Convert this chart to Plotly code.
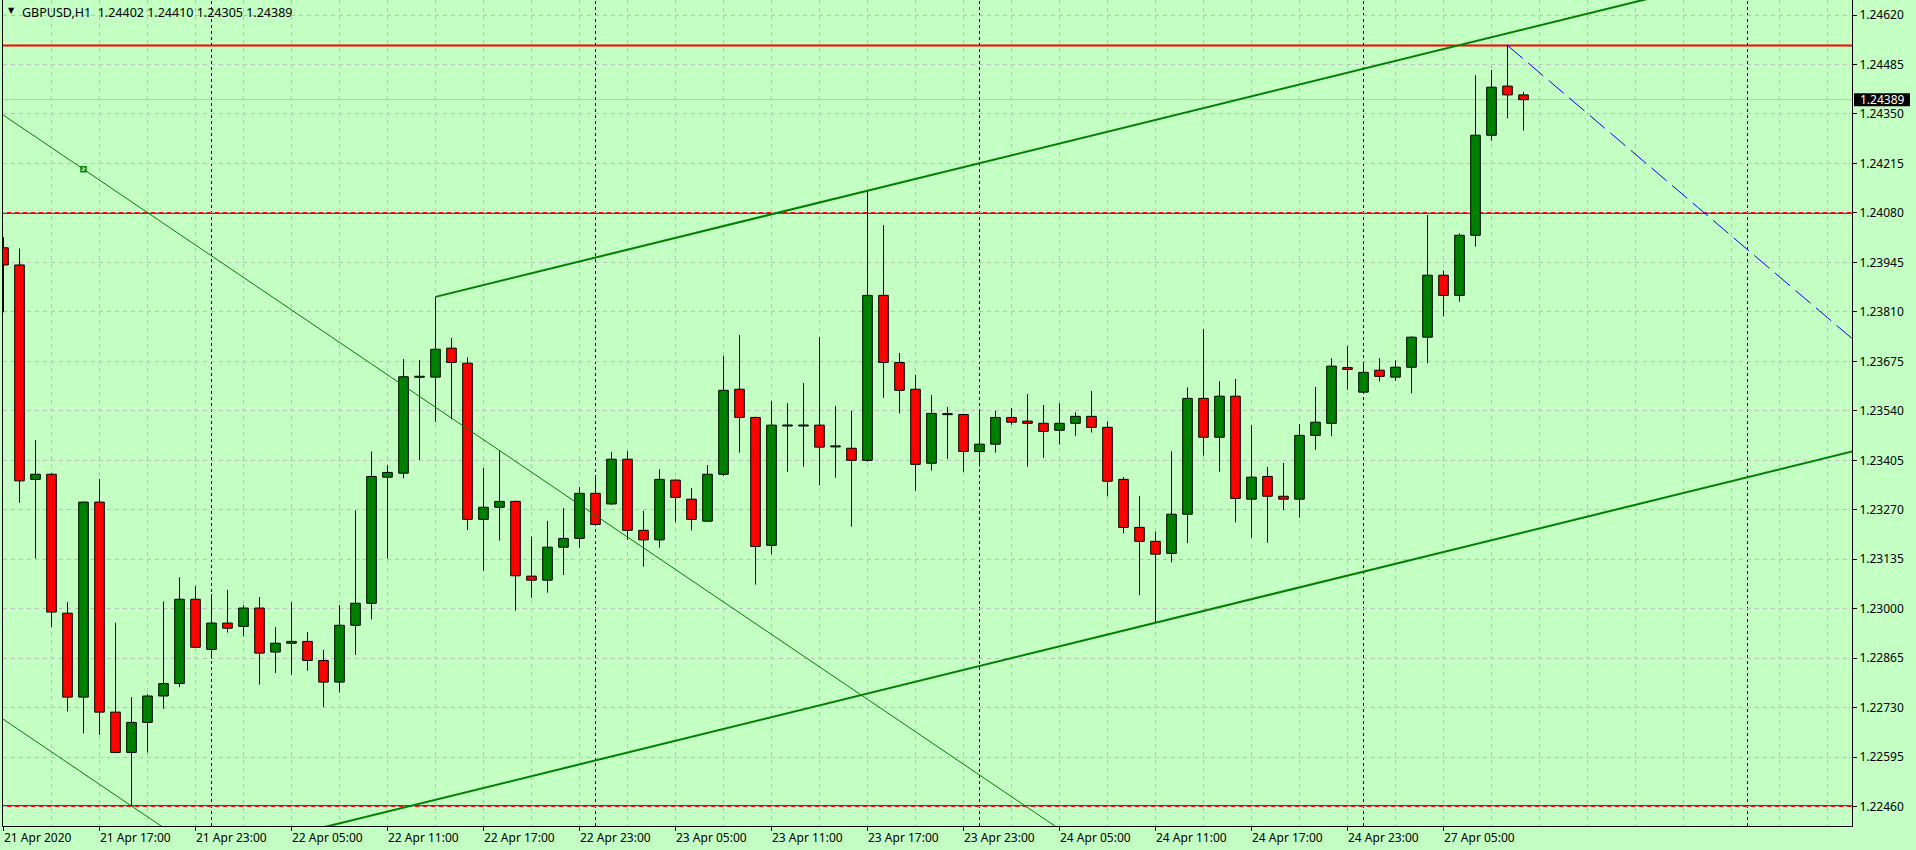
import plotly.graph_objects as go
import pandas as pd

SYMBOL = "GBPUSD,H1"

# ---- OHLC data (H1 bars) ----
opens = [1.23985, 1.23938, 1.23353, 1.23367, 1.22988, 1.22759, 1.23291, 1.22718, 1.22608, 1.22690,
         1.22762, 1.22796, 1.23026, 1.22889, 1.22961, 1.22952, 1.23002, 1.22882, 1.22906, 1.22911,
         1.22859, 1.22800, 1.22955, 1.23015, 1.23359, 1.23370, 1.23633, 1.23632, 1.23711, 1.23670,
         1.23244, 1.23277, 1.23293, 1.23089, 1.23078, 1.23168, 1.23192, 1.23315, 1.23286, 1.23408,
         1.23214, 1.23188, 1.23351, 1.23299, 1.23239, 1.23367, 1.23599, 1.23522, 1.23173, 1.23500,
         1.23500, 1.23501, 1.23443, 1.23438, 1.23405, 1.23855, 1.23672, 1.23599, 1.23397, 1.23531,
         1.23530, 1.23429, 1.23449, 1.23522, 1.23512, 1.23506, 1.23487, 1.23506, 1.23525, 1.23495,
         1.23353, 1.23222, 1.23184, 1.23151, 1.23258, 1.23574, 1.23468, 1.23580, 1.23299, 1.23361,
         1.23307, 1.23299, 1.23473, 1.23506, 1.23658, 1.23591, 1.23651, 1.23632, 1.23659, 1.23741,
         1.23910, 1.23855, 1.24019, 1.24292, 1.24426, 1.24402]
highs = [1.24014, 1.23983, 1.23460, 1.23370, 1.23018, 1.23293, 1.23354, 1.22962, 1.22759, 1.22767,
         1.23020, 1.23086, 1.23062, 1.23040, 1.23051, 1.23010, 1.23032, 1.22950, 1.23018, 1.22936,
         1.22888, 1.23010, 1.23268, 1.23429, 1.23392, 1.23681, 1.23679, 1.23851, 1.23739, 1.23686,
         1.23384, 1.23431, 1.23295, 1.23197, 1.23240, 1.23275, 1.23332, 1.23362, 1.23428, 1.23430,
         1.23267, 1.23381, 1.23353, 1.23329, 1.23392, 1.23690, 1.23747, 1.23524, 1.23567, 1.23561,
         1.23616, 1.23741, 1.23553, 1.23540, 1.24143, 1.24047, 1.23698, 1.23638, 1.23583, 1.23550,
         1.23532, 1.23542, 1.23540, 1.23548, 1.23586, 1.23556, 1.23561, 1.23536, 1.23594, 1.23511,
         1.23359, 1.23308, 1.23210, 1.23430, 1.23604, 1.23763, 1.23621, 1.23627, 1.23501, 1.23387,
         1.23398, 1.23504, 1.23605, 1.23683, 1.23717, 1.23674, 1.23683, 1.23678, 1.23743, 1.24074,
         1.23923, 1.24024, 1.24456, 1.24470, 1.24537, 1.24410]
lows = [1.23809, 1.23289, 1.23137, 1.22950, 1.22720, 1.22660, 1.22656, 1.22606, 1.22462, 1.22608,
        1.22727, 1.22786, 1.22893, 1.22864, 1.22935, 1.22925, 1.22793, 1.22825, 1.22820, 1.22831,
        1.22732, 1.22772, 1.22874, 1.22971, 1.23137, 1.23356, 1.23406, 1.23510, 1.23517, 1.23215,
        1.23104, 1.23186, 1.22995, 1.23030, 1.23044, 1.23092, 1.23167, 1.23228, 1.23284, 1.23188,
        1.23115, 1.23167, 1.23236, 1.23214, 1.23237, 1.23362, 1.23426, 1.23066, 1.23149, 1.23374,
        1.23388, 1.23337, 1.23358, 1.23224, 1.23401, 1.23576, 1.23533, 1.23322, 1.23377, 1.23409,
        1.23374, 1.23388, 1.23426, 1.23502, 1.23388, 1.23412, 1.23448, 1.23472, 1.23481, 1.23307,
        1.23206, 1.23037, 1.22963, 1.23127, 1.23179, 1.23418, 1.23374, 1.23236, 1.23194, 1.23180,
        1.23269, 1.23249, 1.23434, 1.23471, 1.23598, 1.23588, 1.23620, 1.23622, 1.23588, 1.23670,
        1.23798, 1.23838, 1.23988, 1.24277, 1.24338, 1.24305]
closes = [1.23938, 1.23349, 1.23367, 1.22991, 1.22759, 1.23291, 1.22718, 1.22608, 1.22690, 1.22762,
          1.22796, 1.23026, 1.22895, 1.22961, 1.22947, 1.23002, 1.22879, 1.22906, 1.22911, 1.22859,
          1.22800, 1.22955, 1.23015, 1.23361, 1.23372, 1.23633, 1.23633, 1.23708, 1.23672, 1.23244,
          1.23277, 1.23293, 1.23090, 1.23078, 1.23168, 1.23192, 1.23315, 1.23230, 1.23408, 1.23214,
          1.23188, 1.23353, 1.23304, 1.23244, 1.23367, 1.23596, 1.23522, 1.23170, 1.23501, 1.23500,
          1.23500, 1.23441, 1.23443, 1.23405, 1.23855, 1.23672, 1.23596, 1.23394, 1.23533, 1.23531,
          1.23429, 1.23449, 1.23522, 1.23509, 1.23506, 1.23484, 1.23506, 1.23525, 1.23495, 1.23348,
          1.23222, 1.23184, 1.23149, 1.23258, 1.23574, 1.23468, 1.23580, 1.23301, 1.23359, 1.23307,
          1.23299, 1.23473, 1.23509, 1.23662, 1.23653, 1.23645, 1.23634, 1.23659, 1.23741, 1.23910,
          1.23855, 1.24019, 1.24292, 1.24423, 1.24402, 1.24389]

# trading sessions shown (hourly bars; weekend skipped)
session_1 = ("2020-04-21 11:00", "2020-04-24 23:00")
session_2 = ("2020-04-27 00:00", "2020-04-27 10:00")

x_tick_labels = ["21 Apr 2020", "21 Apr 17:00", "21 Apr 23:00", "22 Apr 05:00", "22 Apr 11:00",
                 "22 Apr 17:00", "22 Apr 23:00", "23 Apr 05:00", "23 Apr 11:00", "23 Apr 17:00",
                 "23 Apr 23:00", "24 Apr 05:00", "24 Apr 11:00", "24 Apr 17:00", "24 Apr 23:00",
                 "27 Apr 05:00"]
y_tick_start = 1.22460
y_tick_step = 0.00135

# drawn objects
horizontal_levels = [1.24537, 1.24080, 1.22462]
channel_start_bar = 27
channel_upper_price = 1.23851
channel_lower_price = 1.22479
channel_slope = 0.0001073          # price per bar
thin_upper_bar, thin_upper_price = 5, 1.24199
thin_lower_bar, thin_lower_price = 8, 1.22462
thin_slope = -0.0002951
blue_start_bar, blue_start_price = 94, 1.24537
blue_slope = -0.0003714

# ---- derived ----
bar_times = list(pd.date_range(*session_1, freq="h")) + list(pd.date_range(*session_2, freq="h"))
n = len(opens)
bars = list(range(n))
day_starts = [i for i, t in enumerate(bar_times) if t.hour == 0]
day_starts.append(day_starts[-1] + 24)
label_pos = list(range(0, n, 6))[:len(x_tick_labels)]

# ---- geometry / style ----
W, H = 1916, 850
ML, MR, MT, MB = 3, 64, 0, 24
PW, PH = W - ML - MR, H - MT - MB
BAR_PX = 16
x_lo = -0.5 / BAR_PX
x_hi = x_lo + PW / BAR_PX
ppx = 0.0216 / 791.7           # price per pixel
y_lo = y_tick_start - (PH - 806.7) * ppx
y_hi = y_lo + PH * ppx

BG = "#C4FFC4"
GRID = "#C0BCC0"
BULL = "#008000"
BEAR = "#FF0000"
FONT = "Noto Sans"

body_lo, body_hi = [], []
for o, c in zip(opens, closes):
    lo, hi = min(o, c), max(o, c)
    if hi - lo < ppx:
        m = (hi + lo) / 2
        lo, hi = m - ppx / 2, m + ppx / 2
    body_lo.append(lo)
    body_hi.append(hi)

fig = go.Figure()

# wicks (two segments so they don't cross the body)
wx, wy = [], []
for i in bars:
    if highs[i] > body_hi[i]:
        wx += [i, i, None]
        wy += [body_hi[i], highs[i], None]
    if lows[i] < body_lo[i]:
        wx += [i, i, None]
        wy += [lows[i], body_lo[i], None]
fig.add_trace(go.Scatter(x=wx, y=wy, mode="lines", line=dict(color="black", width=1),
                         hoverinfo="skip"))

up = [i for i in bars if closes[i] >= opens[i]]
dn = [i for i in bars if closes[i] < opens[i]]
for idx, col in ((up, BULL), (dn, BEAR)):
    fig.add_trace(go.Bar(x=idx, y=[body_hi[i] - body_lo[i] for i in idx],
                         base=[body_lo[i] for i in idx], width=0.6,
                         marker=dict(color=col, line=dict(color="black", width=1))))

def line_pts(b0, p0, slope, xa, xb):
    return [xa, xb], [p0 + (xa - b0) * slope, p0 + (xb - b0) * slope]

# equidistant channel (thick)
xs, ys = line_pts(channel_start_bar, channel_upper_price, channel_slope, channel_start_bar, 140)
fig.add_trace(go.Scatter(x=xs, y=ys, mode="lines", line=dict(color=BULL, width=2)))
xs, ys = line_pts(channel_start_bar, channel_lower_price, channel_slope, 0, 140)
fig.add_trace(go.Scatter(x=xs, y=ys, mode="lines", line=dict(color=BULL, width=2)))
# thin descending channel
xs, ys = line_pts(thin_upper_bar, thin_upper_price, thin_slope, -3, 90)
fig.add_trace(go.Scatter(x=xs, y=ys, mode="lines", line=dict(color=BULL, width=1)))
xs, ys = line_pts(thin_lower_bar, thin_lower_price, thin_slope, -3, 60)
fig.add_trace(go.Scatter(x=xs, y=ys, mode="lines", line=dict(color=BULL, width=1)))
fig.add_trace(go.Scatter(x=[thin_upper_bar], y=[thin_upper_price], mode="markers",
                         marker=dict(symbol="square-open", size=5, color=BULL, line=dict(width=1.5))))
# blue dashed trend
xs, ys = line_pts(blue_start_bar, blue_start_price, blue_slope, blue_start_bar, 130)
fig.add_trace(go.Scatter(x=xs, y=ys, mode="lines", line=dict(color="#0000FF", width=1, dash="20px,7px")))

shapes = []
for lv in horizontal_levels:
    shapes.append(dict(type="line", xref="paper", yref="y", x0=0, x1=1, y0=lv, y1=lv,
                       line=dict(color=BEAR, width=2), layer="below"))
shapes.append(dict(type="line", xref="paper", yref="y", x0=0, x1=1, y0=closes[-1], y1=closes[-1],
                   line=dict(color="#C0C0C0", width=1), layer="below"))
for d in day_starts:
    shapes.append(dict(type="line", xref="x", yref="paper", x0=d, x1=d, y0=0, y1=1,
                       line=dict(color="black", width=1, dash="3px,3px"), layer="below"))
# last price tag box on the price scale
shapes.append(dict(type="rect", xref="paper", yref="y",
                   x0=(1854 - ML) / PW, x1=(1910 - ML) / PW,
                   y0=closes[-1] - 6.5 * ppx, y1=closes[-1] + 6.5 * ppx,
                   fillcolor="black", line=dict(width=0), layer="above"))

annotations = []
for pos, lab in zip(label_pos, x_tick_labels):
    annotations.append(dict(x=pos, y=0, xref="x", yref="paper", text=lab, showarrow=False,
                            xanchor="left", yanchor="top", xshift=-2, yshift=-1,
                            font=dict(family=FONT, size=12, color="black")))
annotations.append(dict(x=(1858 - ML) / PW, y=closes[-1], xref="paper", yref="y",
                        text=f"{closes[-1]:.5f}", showarrow=False, xanchor="left", yanchor="middle",
                        font=dict(family=FONT, size=12, color="white")))
annotations.append(dict(x=(6 - ML) / PW, y=1, xref="paper", yref="paper", text="▼",
                        showarrow=False, xanchor="left", yanchor="top", yshift=-4,
                        font=dict(family="DejaVu Sans", size=8, color="black")))
header = (SYMBOL + "\u00a0\u00a0" + f"{opens[-1]:.5f} {highs[-1]:.5f} {lows[-1]:.5f} {closes[-1]:.5f}")
annotations.append(dict(x=(20 - ML) / PW, y=1, xref="paper", yref="paper", text=header,
                        showarrow=False, xanchor="left", yanchor="top", yshift=-2,
                        font=dict(family=FONT, size=12.5, color="black")))

fig.update_layout(width=W, height=H, autosize=False,
                  margin=dict(l=ML, r=MR, t=MT, b=MB, pad=0),
                  paper_bgcolor=BG, plot_bgcolor=BG, showlegend=False,
                  barmode="overlay", hovermode=False,
                  font=dict(family=FONT, size=12, color="black"),
                  shapes=shapes, annotations=annotations)
fig.update_xaxes(range=[x_lo, x_hi], tickmode="array", tickvals=label_pos,
                 ticktext=[""] * len(label_pos), showticklabels=False,
                 ticks="outside", ticklen=4, tickcolor="black",
                 showgrid=True, gridcolor=GRID, griddash="4px,4px", gridwidth=1,
                 showline=True, linecolor="black", linewidth=1, zeroline=False,
                 minor=dict(tickmode="linear", tick0=0, dtick=3, showgrid=True,
                            gridcolor=GRID, griddash="4px,4px", ticks=""))
fig.update_yaxes(range=[y_lo, y_hi], side="right", tickmode="linear",
                 tick0=y_tick_start, dtick=y_tick_step, tickformat=".5f",
                 ticks="outside", ticklen=4, tickcolor="black",
                 showgrid=True, gridcolor=GRID, griddash="4px,4px", gridwidth=1,
                 showline=True, mirror=True, linecolor="black", linewidth=1, zeroline=False,
                 tickfont=dict(family=FONT, size=12, color="black"))

fig.write_html("out.html", config={"displayModeBar": False},
               post_script="document.body.style.margin='0';document.body.style.overflow='hidden';")
